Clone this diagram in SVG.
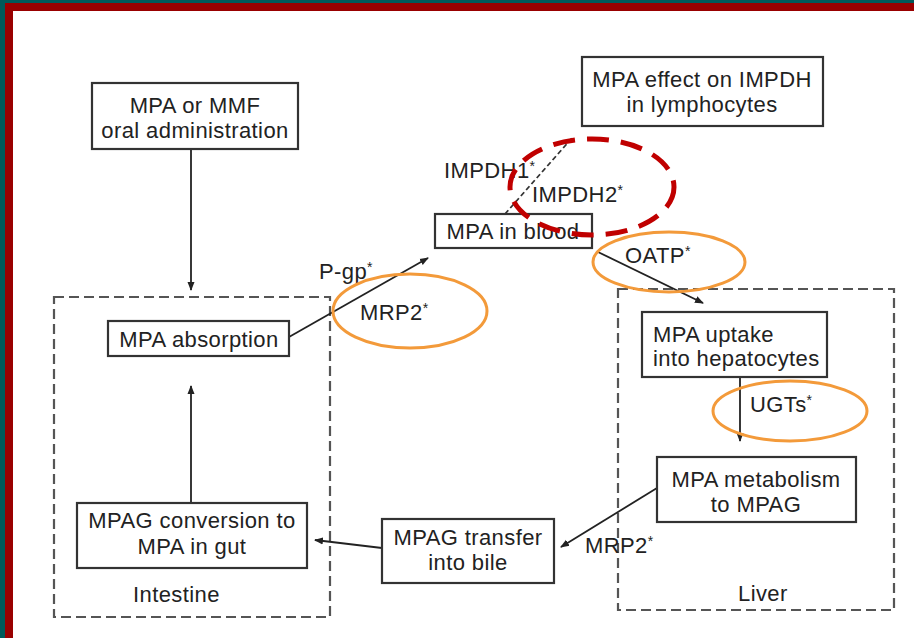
<svg xmlns="http://www.w3.org/2000/svg" width="914" height="638" viewBox="0 0 914 638">
<style>
.bg{fill:#ffffff}
.box{fill:#ffffff;stroke:#333333;stroke-width:2.2}
.region{fill:none;stroke:#555555;stroke-width:2.2;stroke-dasharray:10 5}
.t{font-family:"Liberation Sans",Arial,sans-serif;font-size:22px;fill:#222222;letter-spacing:0.4px}
.c{text-anchor:middle}
.sup{font-size:14px}
.conn{stroke:#222222;stroke-width:1.8;fill:none}
.dash{stroke:#333333;stroke-width:1.8;fill:none;stroke-dasharray:5 3}
.orange{fill:none;stroke:#f39a3a;stroke-width:3}
.red{fill:none;stroke:#c00000;stroke-width:5;stroke-dasharray:22 12}
</style>
<defs>
<marker id="ah" markerWidth="10" markerHeight="10" refX="8" refY="5" orient="auto" markerUnits="userSpaceOnUse">
<path d="M0,1.5 L9,5 L0,8.5 Z" fill="#222222"/>
</marker>
</defs>
<rect class="bg" x="0" y="0" width="914" height="638"/>
<!-- frame -->
<rect x="0" y="0" width="914" height="3" fill="#005a5a"/>
<rect x="0" y="0" width="5" height="638" fill="#005a5a"/>
<rect x="5" y="3" width="909" height="8" fill="#990000"/>
<rect x="5" y="3" width="8" height="635" fill="#990000"/>

<g id="region-intestine">
<rect class="region" x="54" y="297" width="276" height="320"/>
<text class="t" x="133" y="602">Intestine</text>
</g>
<g id="region-liver">
<rect class="region" x="618" y="289" width="276" height="321"/>
<text class="t" x="738" y="601">Liver</text>
</g>

<g id="connectors">
<line class="conn" x1="191" y1="149" x2="191" y2="290" marker-end="url(#ah)"/>
<line class="conn" x1="289" y1="337" x2="428" y2="258" marker-end="url(#ah)"/>
<line class="dash" x1="505" y1="214" x2="572" y2="138"/>
<line class="conn" x1="598" y1="252" x2="703" y2="303" marker-end="url(#ah)"/>
<line class="conn" x1="740" y1="377" x2="740" y2="441" marker-end="url(#ah)"/>
<line class="conn" x1="657" y1="488" x2="561" y2="547" marker-end="url(#ah)"/>
<line class="conn" x1="382" y1="548" x2="315" y2="540" marker-end="url(#ah)"/>
<line class="conn" x1="191" y1="503" x2="191" y2="386" marker-end="url(#ah)"/>
</g>

<g id="node-oral">
<rect class="box" x="92" y="83" width="206" height="66"/>
<text class="t c" x="195" y="113">MPA or MMF</text>
<text class="t c" x="195" y="138">oral administration</text>
</g>
<g id="node-absorption">
<rect class="box" x="108" y="321" width="181" height="35"/>
<text class="t c" x="199" y="347">MPA absorption</text>
</g>
<g id="node-blood">
<rect class="box" x="435" y="214" width="157" height="34"/>
<text class="t c" x="513" y="239">MPA in blood</text>
</g>
<g id="node-effect">
<rect class="box" x="582" y="57" width="241" height="69"/>
<text class="t c" x="702" y="87">MPA effect on IMPDH</text>
<text class="t c" x="702" y="112">in lymphocytes</text>
</g>
<g id="node-uptake">
<rect class="box" x="642" y="312" width="185" height="65"/>
<text class="t" x="653" y="342">MPA uptake</text>
<text class="t" x="653" y="366">into hepatocytes</text>
</g>
<g id="node-metabolism">
<rect class="box" x="657" y="457" width="199" height="65"/>
<text class="t c" x="756" y="487">MPA metabolism</text>
<text class="t c" x="756" y="512">to MPAG</text>
</g>
<g id="node-transfer">
<rect class="box" x="382" y="519" width="172" height="64"/>
<text class="t c" x="468" y="545">MPAG transfer</text>
<text class="t c" x="468" y="570">into bile</text>
</g>
<g id="node-conversion">
<rect class="box" x="77" y="503" width="230" height="65"/>
<text class="t c" x="192" y="528">MPAG conversion to</text>
<text class="t c" x="192" y="554">MPA in gut</text>
</g>

<g id="labels">
<text class="t" x="319" y="279">P-gp<tspan class="sup" dy="-7">*</tspan></text>
<text class="t" x="360" y="320">MRP2<tspan class="sup" dy="-7">*</tspan></text>
<text class="t" x="444" y="178">IMPDH1<tspan class="sup" dy="-7">*</tspan></text>
<text class="t" x="532" y="202">IMPDH2<tspan class="sup" dy="-7">*</tspan></text>
<text class="t" x="625" y="263">OATP<tspan class="sup" dy="-7">*</tspan></text>
<text class="t" x="750" y="412">UGTs<tspan class="sup" dy="-7">*</tspan></text>
<text class="t" x="585" y="553">MRP2<tspan class="sup" dy="-7">*</tspan></text>
</g>

<g id="highlights">
<ellipse class="orange" cx="410" cy="311" rx="77" ry="37"/>
<ellipse class="red" cx="592" cy="187" rx="82" ry="48"/>
<ellipse class="orange" cx="669" cy="262" rx="76" ry="30"/>
<ellipse class="orange" cx="790" cy="411" rx="77" ry="30"/>
</g>
</svg>
